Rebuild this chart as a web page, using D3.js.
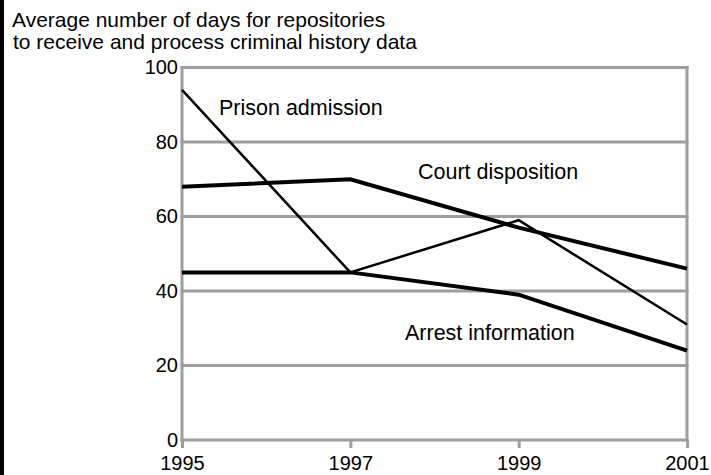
<!DOCTYPE html>
<html>
<head>
<meta charset="utf-8">
<script src="https://d3js.org/d3.v7.min.js"></script>
<style>
body { margin:0; background:#fff; }
svg { display:block; font-family:"Liberation Sans", Arial, Helvetica, sans-serif; }
</style>
</head>
<body>
<div id="chart"></div>
<script>
var years = [1995, 1997, 1999, 2001];
var yTicks = [0, 20, 40, 60, 80, 100];
var prison = [94, 45, 59, 31];
var court = [68, 70, 57, 46];
var arrest = [45, 45, 39, 24];
var titleLines = ["Average number of days for repositories", "to receive and process criminal history data"];

var width = 711, height = 475;
var margin = {top:67.5, left:182, right:24, bottom:35};

var svg = d3.select("#chart")
  .append("svg")
  .attr("width", width)
  .attr("height", height);

// black strip on the left edge
svg.append("rect")
  .attr("x", 0).attr("y", 0)
  .attr("width", 4).attr("height", height)
  .attr("fill", "#000");

var x = d3.scaleLinear()
  .domain([1995, 2001])
  .range([margin.left, width - margin.right]);
var y = d3.scaleLinear()
  .domain([0, 100])
  .range([height - margin.bottom, margin.top]);

var grey = "#9e9e9e";

// gridlines
svg.append("g")
  .selectAll("line")
  .data(yTicks)
  .enter().append("line")
  .attr("x1", x(1995) - 1.5)
  .attr("x2", x(2001) + 1.5)
  .attr("y1", function(d){ return y(d); })
  .attr("y2", function(d){ return y(d); })
  .attr("stroke", grey)
  .attr("stroke-width", 3);

// left and right frame
svg.append("g")
  .selectAll("line")
  .data([1995, 2001])
  .enter().append("line")
  .attr("x1", function(d){ return x(d); })
  .attr("x2", function(d){ return x(d); })
  .attr("y1", y(100) - 1.5)
  .attr("y2", y(0) + 1.5)
  .attr("stroke", grey)
  .attr("stroke-width", 3);

// x axis
var xAxis = svg.append("g")
  .attr("transform", "translate(0," + y(0) + ")")
  .call(d3.axisBottom(x)
    .tickValues(years)
    .tickFormat(d3.format("d"))
    .tickSize(8)
    .tickPadding(8));
xAxis.select(".domain").remove();
xAxis.selectAll(".tick line").attr("stroke", grey).attr("stroke-width", 3);
xAxis.selectAll(".tick text")
  .attr("fill", "#000")
  .style("font-size", "20px")
  .style("font-family", "Liberation Sans, Arial, sans-serif");

// y axis labels
var yAxis = svg.append("g")
  .attr("transform", "translate(" + x(1995) + ",0)")
  .call(d3.axisLeft(y)
    .tickValues(yTicks)
    .tickSize(0)
    .tickPadding(4));
yAxis.select(".domain").remove();
yAxis.selectAll(".tick text")
  .attr("fill", "#000")
  .style("font-size", "20px")
  .style("font-family", "Liberation Sans, Arial, sans-serif");

var line = d3.line()
  .x(function(d, i){ return x(years[i]); })
  .y(function(d){ return y(d); });

var series = [
  {name:"Prison admission", values:prison, w:2.5},
  {name:"Court disposition", values:court, w:4},
  {name:"Arrest information", values:arrest, w:4}
];

svg.selectAll(".series")
  .data(series)
  .enter().append("path")
  .attr("class", "series")
  .attr("d", function(d){ return line(d.values); })
  .attr("fill", "none")
  .attr("stroke", "#000")
  .attr("stroke-width", function(d){ return d.w; })
  .attr("stroke-linejoin", "miter");

// series labels
var labelPos = [[219, 115], [418, 179], [405, 340]];
svg.selectAll(".lab")
  .data(series)
  .enter().append("text")
  .attr("class", "lab")
  .attr("x", function(d, i){ return labelPos[i][0]; })
  .attr("y", function(d, i){ return labelPos[i][1]; })
  .style("font-size", "21.5px")
  .attr("fill", "#000")
  .text(function(d){ return d.name; });

// title
svg.selectAll(".title")
  .data(titleLines)
  .enter().append("text")
  .attr("class", "title")
  .attr("x", function(d, i){ return 12 + i; })
  .attr("y", function(d, i){ return 27 + i * 22; })
  .style("font-size", "21px")
  .attr("fill", "#000")
  .text(function(d){ return d; });
</script>
</body>
</html>
